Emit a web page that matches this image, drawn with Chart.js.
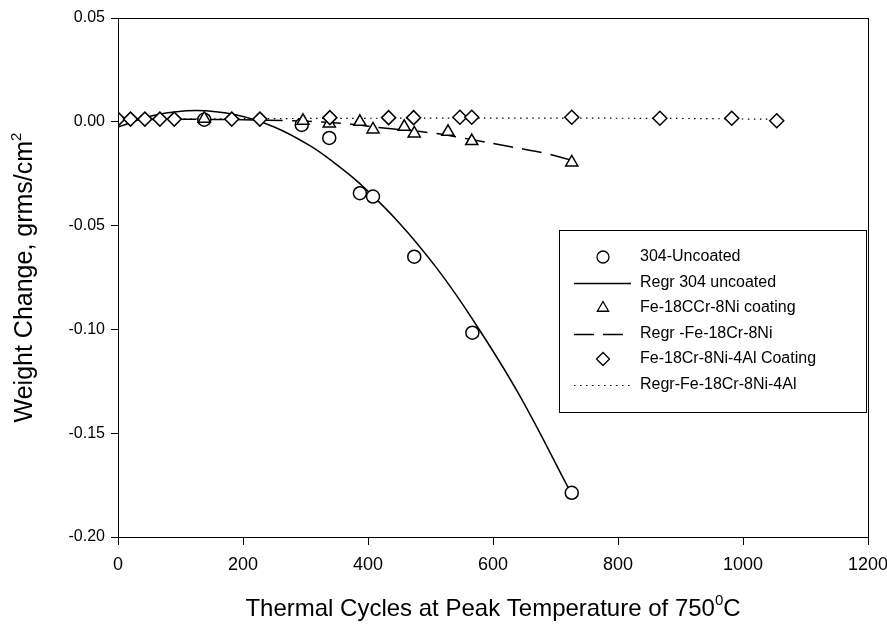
<!DOCTYPE html>
<html>
<head>
<meta charset="utf-8">
<script src="https://cdn.jsdelivr.net/npm/chart.js@4/dist/chart.umd.min.js"></script>
<style>
  html, body { margin: 0; padding: 0; background: #fff; }
  #wrap { width: 887px; height: 625px; }
</style>
</head>
<body>
<div id="wrap"><canvas id="grafico"></canvas></div>
<script>
// 304 sem revestimento
const ciclosUncoated = [138, 294, 338, 387, 408, 474, 567, 726];
const pesoUncoated = [0.001, -0.0015, -0.0078, -0.0344, -0.036, -0.065, -0.1016, -0.1787];

// regressao 304
const ciclosRegrUnc = [0, 60, 125, 190, 250, 307, 347, 387, 450, 510, 567, 640, 726];
const pesoRegrUnc = [-0.0025, 0.0033, 0.0055, 0.0033, -0.0025, -0.0115, -0.02, -0.0298, -0.0487, -0.0705, -0.095, -0.1305, -0.1795];

// Fe-18Cr-8Ni
const ciclosFeCr = [138, 296, 338, 387, 408, 458, 474, 528, 566, 726];
const pesoFeCr = [0.0015, 0.0005, -0.0008, 0, -0.0037, -0.0024, -0.0056, -0.0048, -0.0093, -0.0196];

const ciclosRegrFeCr = [0, 100, 200, 275, 320, 368, 425, 506, 550, 633, 681, 726];
const pesoRegrFeCr = [0.001, 0.0012, 0.001, 0.0005, 0, -0.001, -0.003, -0.0055, -0.0077, -0.0123, -0.015, -0.0185];

// Fe-18Cr-8Ni-4Al
const ciclosFeCrAl = [0, 20, 43, 67, 90, 182, 227, 339, 433, 473, 547, 566, 726, 867, 982, 1054];
const pesoFeCrAl = [0.0013, 0.0013, 0.0013, 0.0013, 0.0013, 0.0013, 0.0013, 0.002, 0.002, 0.002, 0.0022, 0.0022, 0.0022, 0.0017, 0.0017, 0.0005];

const ciclosRegrFeCrAl = [0, 300, 600, 900, 1054];
const pesoRegrFeCrAl = [0.0012, 0.0016, 0.0018, 0.0016, 0.0012];

const legendas = ['304-Uncoated', 'Regr 304 uncoated', 'Fe-18CCr-8Ni coating', 'Regr -Fe-18Cr-8Ni', 'Fe-18Cr-8Ni-4Al Coating', 'Regr-Fe-18Cr-8Ni-4Al'];

const xTicks = [0, 200, 400, 600, 800, 1000, 1200];
const yTicks = [-0.20, -0.15, -0.10, -0.05, 0.00, 0.05];

function pares(xs, ys) {
  return xs.map((x, i) => ({ x: x, y: ys[i] }));
}

const FONTE = '"Liberation Sans", Arial, sans-serif';

// moldura, titulos dos eixos e legenda desenhados a mao
const extrasPlugin = {
  id: 'extras',
  afterDraw(chart) {
    const ctx = chart.ctx;
    const a = chart.chartArea;
    ctx.save();
    ctx.strokeStyle = '#000';
    ctx.lineWidth = 1;
    ctx.strokeRect(Math.round(a.left) + 0.5, Math.round(a.top) + 0.5, Math.round(a.right - a.left), Math.round(a.bottom - a.top));

    // titulo eixo x
    ctx.fillStyle = '#000';
    ctx.textBaseline = 'alphabetic';
    ctx.textAlign = 'left';
    const t1 = 'Thermal Cycles at Peak Temperature of 750';
    const t2 = '0';
    const t3 = 'C';
    ctx.font = '24px ' + FONTE;
    const w1 = ctx.measureText(t1).width;
    const w3 = ctx.measureText(t3).width;
    ctx.font = '15px ' + FONTE;
    const w2 = ctx.measureText(t2).width;
    let x0 = (a.left + a.right) / 2 - (w1 + w2 + w3) / 2;
    const yb = 616;
    ctx.font = '24px ' + FONTE;
    ctx.fillText(t1, x0, yb);
    ctx.font = '15px ' + FONTE;
    ctx.fillText(t2, x0 + w1, yb - 11);
    ctx.font = '24px ' + FONTE;
    ctx.fillText(t3, x0 + w1 + w2, yb);

    // titulo eixo y
    ctx.save();
    ctx.translate(32, (a.top + a.bottom) / 2);
    ctx.rotate(-Math.PI / 2);
    const s1 = 'Weight Change, grms/cm';
    const s2 = '2';
    ctx.font = '25px ' + FONTE;
    const ws1 = ctx.measureText(s1).width;
    ctx.font = '15px ' + FONTE;
    const ws2 = ctx.measureText(s2).width;
    const sx = -(ws1 + ws2) / 2;
    ctx.font = '25px ' + FONTE;
    ctx.fillText(s1, sx, 0);
    ctx.font = '15px ' + FONTE;
    ctx.fillText(s2, sx + ws1, -11);
    ctx.restore();

    // legenda
    const bx = 559, by = 230, bw = 307, bh = 182;
    ctx.fillStyle = '#fff';
    ctx.fillRect(bx, by, bw, bh);
    ctx.strokeRect(bx + 0.5, by + 0.5, bw, bh);
    const simX = 603;
    const texX = 640;
    const y0 = 257, passo = 25.5;
    chart.data.datasets.forEach((ds, i) => {
      const yy = y0 + passo * i;
      ctx.strokeStyle = '#000';
      if (ds.showLine) {
        ctx.save();
        ctx.lineWidth = ds.borderWidth;
        ctx.setLineDash(ds.borderDash || []);
        ctx.beginPath();
        ctx.moveTo(574, Math.round(yy) + 0.5);
        ctx.lineTo(631, Math.round(yy) + 0.5);
        ctx.stroke();
        ctx.restore();
      } else {
        ctx.save();
        ctx.fillStyle = '#fff';
        ctx.lineWidth = 1.3;
        Chart.helpers.drawPoint(ctx, {
          pointStyle: ds.pointStyle,
          radius: ds.pointRadius - 0.5,
          rotation: 0,
          borderWidth: 1.3
        }, simX, yy);
        ctx.restore();
      }
      ctx.fillStyle = '#000';
      ctx.font = '16px ' + FONTE;
      ctx.textBaseline = 'middle';
      ctx.fillText(legendas[i], texX, yy);
    });
    ctx.restore();
  }
};

function serieMarcador(dados, estilo, raio, ordem) {
  return {
    data: dados,
    showLine: false,
    pointStyle: estilo,
    pointRadius: raio,
    pointBackgroundColor: '#fff',
    pointBorderColor: '#000',
    pointBorderWidth: 1.5,
    borderColor: '#000',
    backgroundColor: '#fff',
    order: ordem
  };
}

function serieLinha(dados, traco, largura, ordem) {
  return {
    data: dados,
    showLine: true,
    pointRadius: 0,
    borderColor: '#000',
    borderWidth: largura,
    borderDash: traco,
    tension: 0.4,
    fill: false,
    order: ordem
  };
}

const ctx = document.getElementById('grafico').getContext('2d');
const grafico = new Chart(ctx, {
  type: 'scatter',
  data: {
    datasets: [
      serieMarcador(pares(ciclosUncoated, pesoUncoated), 'circle', 6.5, 3),
      serieLinha(pares(ciclosRegrUnc, pesoRegrUnc), [], 1.5, 6),
      serieMarcador(pares(ciclosFeCr, pesoFeCr), 'triangle', 7, 2),
      serieLinha(pares(ciclosRegrFeCr, pesoRegrFeCr), [20, 9], 1.5, 5),
      serieMarcador(pares(ciclosFeCrAl, pesoFeCrAl), 'rectRot', 7, 1),
      serieLinha(pares(ciclosRegrFeCrAl, pesoRegrFeCrAl), [1.5, 4.5], 1.2, 4)
    ]
  },
  options: {
    responsive: true,
    maintainAspectRatio: false,
    animation: false,
    layout: { padding: { left: 0, top: 18, right: 19, bottom: 0 } },
    plugins: {
      legend: { display: false },
      tooltip: { enabled: false }
    },
    scales: {
      x: {
        type: 'linear',
        min: 0,
        max: 1200,
        afterFit: s => { s.height = 88; s.paddingLeft = 0; s.paddingRight = 0; },
        afterBuildTicks: s => { s.ticks = xTicks.map(v => ({ value: v })); },
        grid: { drawOnChartArea: false, drawTicks: true, tickLength: 8, color: '#000' },
        border: { display: true, color: '#000' },
        ticks: {
          color: '#000',
          padding: 9,
          font: { family: FONTE, size: 18 },
          maxRotation: 0,
          callback: v => String(v)
        }
      },
      y: {
        type: 'linear',
        min: -0.2,
        max: 0.05,
        afterFit: s => { s.width = 118; s.paddingTop = 0; s.paddingBottom = 0; },
        afterBuildTicks: s => { s.ticks = yTicks.map(v => ({ value: v })); },
        grid: { drawOnChartArea: false, drawTicks: true, tickLength: 7, color: '#000' },
        border: { display: true, color: '#000' },
        ticks: {
          color: '#000',
          padding: 6,
          font: { family: FONTE, size: 16 },
          callback: v => (Math.abs(v) < 1e-9 ? 0 : v).toFixed(2)
        }
      }
    }
  },
  plugins: [extrasPlugin]
});
</script>
</body>
</html>
